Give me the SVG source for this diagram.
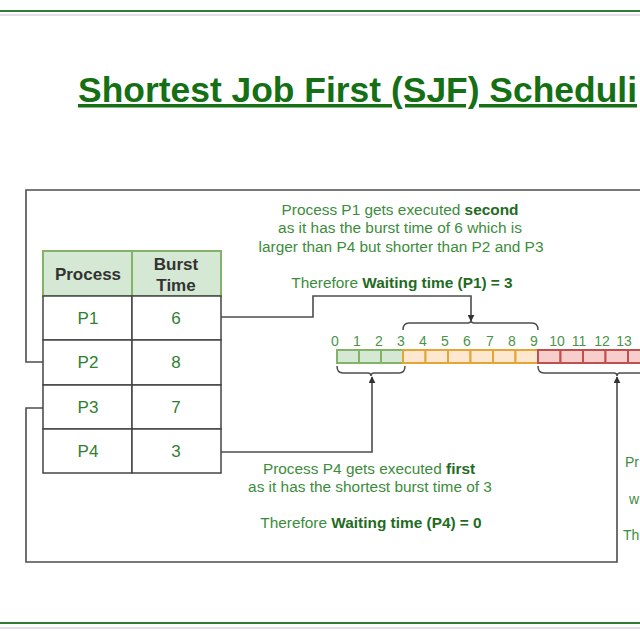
<svg xmlns="http://www.w3.org/2000/svg" width="640" height="640" viewBox="0 0 640 640">
<style>
.t{font-family:"Liberation Sans",Arial,sans-serif}
.desc{font-size:15.4px;fill:#3c8c3c;text-anchor:middle}
.desc .b{font-weight:bold;fill:#1f6b1f}
.num{font-size:14px;fill:#4a944a;text-anchor:middle}
.cell{font-size:17px;fill:#2f7f2f;text-anchor:middle}
.hdr{font-size:17px;font-weight:bold;fill:#333;text-anchor:middle}
.ln{fill:none;stroke:#4d4d4d;stroke-width:1.6}
.br{fill:none;stroke:#4d4d4d;stroke-width:1.5}
.g{fill:#d5e8d4;stroke:#82b366;stroke-width:2}
.o{fill:#fde8cf;stroke:#e3a535;stroke-width:2}
.r{fill:#f8cecc;stroke:#c0504d;stroke-width:2}
.row{fill:#fff;stroke:#444;stroke-width:1.5}
.head{fill:#d5e8d4;stroke:#82b366;stroke-width:2}
</style>
<defs>
<marker id="ah" viewBox="0 0 10 10" refX="9" refY="5" markerWidth="7" markerHeight="7" orient="auto" markerUnits="userSpaceOnUse">
<path d="M0,0 L10,5 L0,10 z" fill="#333"/>
</marker>
</defs>
<rect width="640" height="640" fill="#fff"/>
<line x1="0" y1="11" x2="640" y2="11" stroke="#2e7d32" stroke-width="2"/>
<line x1="0" y1="15" x2="640" y2="15" stroke="#ddd0e4" stroke-width="1.5"/>
<line x1="0" y1="623" x2="640" y2="623" stroke="#2e7d32" stroke-width="2"/>
<line x1="0" y1="628" x2="640" y2="628" stroke="#ddd0e4" stroke-width="1.5"/>

<g id="title">
<text class="t" x="78" y="102" font-size="35" font-weight="bold" fill="#157015" text-decoration="underline" textLength="559" lengthAdjust="spacingAndGlyphs">Shortest Job First (SJF) Scheduli</text>
</g>

<g id="connectors">
<polyline class="ln" points="43,362 26,362 26,190 640,190"/>
<polyline class="ln" points="221,317 313,317 313,296 471,296 471,321" marker-end="url(#ah)"/>
<polyline class="ln" points="221,452 372,452 372,377" marker-end="url(#ah)"/>
<polyline class="ln" points="43,408 26,408 26,562 617,562 617,377" marker-end="url(#ah)"/>
</g>

<g id="table">
<rect class="head" x="43" y="251" width="89" height="45"/>
<rect class="head" x="132" y="251" width="89" height="45"/>
<text class="t hdr" x="88" y="280">Process</text>
<text class="t hdr" x="176" y="270">Burst</text>
<text class="t hdr" x="176" y="291">Time</text>
<g id="row-p1">
<rect class="row" x="43" y="296" width="89" height="44"/>
<rect class="row" x="132" y="296" width="89" height="44"/>
<text class="t cell" x="88" y="324">P1</text>
<text class="t cell" x="176" y="324">6</text>
</g>
<g id="row-p2">
<rect class="row" x="43" y="340" width="89" height="45"/>
<rect class="row" x="132" y="340" width="89" height="45"/>
<text class="t cell" x="88" y="368">P2</text>
<text class="t cell" x="176" y="368">8</text>
</g>
<g id="row-p3">
<rect class="row" x="43" y="385" width="89" height="44"/>
<rect class="row" x="132" y="385" width="89" height="44"/>
<text class="t cell" x="88" y="413">P3</text>
<text class="t cell" x="176" y="413">7</text>
</g>
<g id="row-p4">
<rect class="row" x="43" y="429" width="89" height="44"/>
<rect class="row" x="132" y="429" width="89" height="44"/>
<text class="t cell" x="88" y="457">P4</text>
<text class="t cell" x="176" y="457">3</text>
</g>
</g>

<g id="timeline">
<rect class="g" x="337" y="350" width="22" height="13"/>
<rect class="g" x="359" y="350" width="22" height="13"/>
<rect class="g" x="381" y="350" width="22" height="13"/>
<rect class="o" x="403" y="350" width="22.5" height="13"/>
<rect class="o" x="425.5" y="350" width="22.5" height="13"/>
<rect class="o" x="448" y="350" width="22.5" height="13"/>
<rect class="o" x="470.5" y="350" width="22.5" height="13"/>
<rect class="o" x="493" y="350" width="22.5" height="13"/>
<rect class="o" x="515.5" y="350" width="22.5" height="13"/>
<rect class="r" x="538" y="350" width="22.5" height="13"/>
<rect class="r" x="560.5" y="350" width="22.5" height="13"/>
<rect class="r" x="583" y="350" width="22.5" height="13"/>
<rect class="r" x="605.5" y="350" width="22.5" height="13"/>
<rect class="r" x="628" y="350" width="22.5" height="13"/>
<g class="t num">
<text x="335" y="346">0</text>
<text x="357" y="346">1</text>
<text x="379" y="346">2</text>
<text x="401" y="346">3</text>
<text x="423" y="346">4</text>
<text x="445" y="346">5</text>
<text x="467" y="346">6</text>
<text x="490" y="346">7</text>
<text x="512" y="346">8</text>
<text x="534" y="346">9</text>
<text x="557" y="346">10</text>
<text x="579" y="346">11</text>
<text x="602" y="346">12</text>
<text x="624" y="346">13</text>
</g>
<path class="br" d="M403,330 Q403,323 409,323 L468,323 Q471,323 471,320 Q471,323 474,323 L532,323 Q538,323 538,330"/>
<path class="br" d="M337,366 Q337,373 343,373 L368,373 Q371,373 371,376 Q371,373 374,373 L399,373 Q405,373 405,366"/>
<path class="br" d="M538,366 Q538,373 544,373 L614,373 Q617,373 617,376 Q617,373 620,373 L640,373"/>
</g>

<g id="note-p1" class="t desc">
<text x="400" y="215">Process P1 gets executed <tspan class="b">second</tspan></text>
<text x="400" y="233">as it has the burst time of 6 which is</text>
<text x="401" y="252">larger than P4 but shorter than P2 and P3</text>
<text x="402" y="288">Therefore <tspan class="b">Waiting time (P1) = 3</tspan></text>
</g>

<g id="note-p4" class="t desc">
<text x="369" y="474">Process P4 gets executed <tspan class="b">first</tspan></text>
<text x="370" y="492">as it has the shortest burst time of 3</text>
<text x="371" y="528">Therefore <tspan class="b">Waiting time (P4) = 0</tspan></text>
</g>

<g id="note-p3" class="t" font-size="14" fill="#3c8c3c">
<text x="625" y="467">Pr</text>
<text x="629" y="504">w</text>
<text x="623" y="540">Th</text>
</g>
</svg>
